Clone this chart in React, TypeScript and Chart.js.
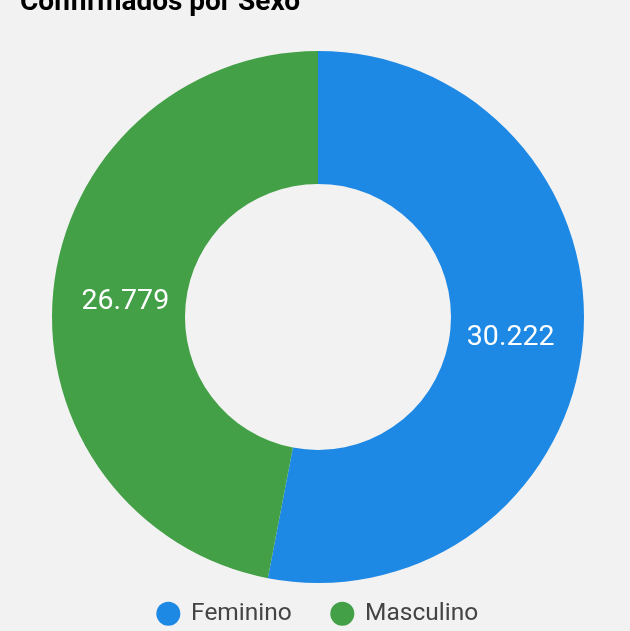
import React, { useEffect, useRef } from "react";
import { Chart, registerables } from "chart.js";

Chart.register(...registerables);

const titleText = "Confirmados por Sexo";
const categories = ["Feminino", "Masculino"];
const values = [30222, 26779];
const colors = ["#1e88e5", "#43a047"];

const fmt = (n: number) => String(n).replace(/\B(?=(\d{3})+(?!\d))/g, ".");

const labelPlugin = {
  id: "sliceLabels",
  afterDatasetsDraw(chart: any) {
    const ctx = chart.ctx;
    const meta = chart.getDatasetMeta(0);
    ctx.save();
    ctx.fillStyle = "#ffffff";
    ctx.font = "28.5px Roboto";
    ctx.textAlign = "center";
    ctx.textBaseline = "middle";
    meta.data.forEach((arc: any, i: number) => {
      const p = arc.tooltipPosition(false);
      const x = arc.x + (p.x - arc.x) * 0.97;
      const y = arc.y + (p.y - arc.y) * 0.97 + 3;
      ctx.fillText(fmt(values[i]), x, y);
    });
    ctx.restore();
  },
};

export default function App() {
  const ref = useRef<HTMLCanvasElement | null>(null);
  useEffect(() => {
    document.body.style.margin = "0";
    document.body.style.background = "#f2f2f2";
    const chart = new Chart(ref.current!, {
      type: "doughnut",
      data: {
        labels: categories,
        datasets: [
          {
            data: values,
            backgroundColor: colors,
            borderWidth: 0,
            radius: 266,
            cutout: "50%",
          } as any,
        ],
      },
      options: {
        animation: false,
        responsive: true,
        maintainAspectRatio: false,
        layout: { padding: { left: 20, right: 14, top: 0, bottom: 0 } },
        plugins: {
          title: {
            display: true,
            text: titleText,
            align: "start",
            color: "#000000",
            font: { family: "Roboto", size: 28, weight: "bold" },
            padding: { top: 0, bottom: 52.9 },
          },
          legend: {
            position: "bottom",
            labels: {
              usePointStyle: true,
              pointStyle: "circle",
              boxWidth: 21,
              boxHeight: 17,
              padding: 40,
              color: "#444444",
              font: { family: "Roboto", size: 24.5 },
            },
          },
          tooltip: { enabled: false },
        },
      },
      plugins: [labelPlugin],
    });
    return () => chart.destroy();
  }, []);
  return (
    <div
      style={{
        position: "fixed",
        top: -14,
        left: 0,
        width: 630,
        height: 650,
        background: "#f2f2f2",
      }}
    >
      <canvas ref={ref} />
    </div>
  );
}
